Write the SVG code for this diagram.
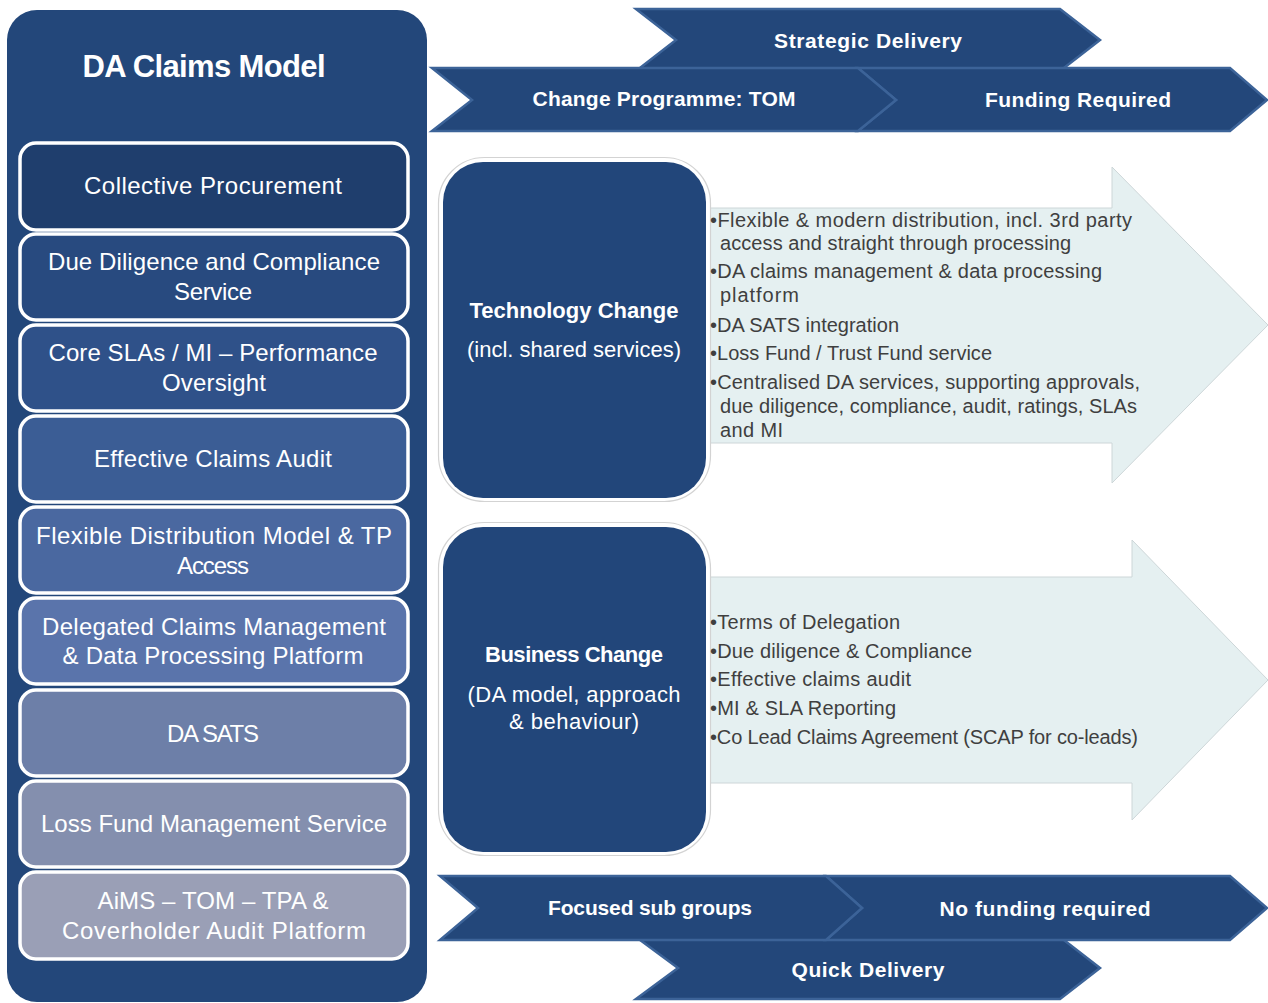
<svg xmlns="http://www.w3.org/2000/svg" width="1268" height="1003" viewBox="0 0 1268 1003">
  <style>
    .panel { fill: #23477a; }
    .item { stroke: #ffffff; stroke-width: 3.5; }
    .item-text { font-family: "Liberation Sans", Arial, sans-serif; font-size: 24px; fill: #ffffff; text-anchor: middle; }
    .title { font-family: "Liberation Sans", Arial, sans-serif; font-size: 31px; font-weight: bold; fill: #ffffff; text-anchor: middle; }
    .chev { fill: #23477a; stroke: #3c6398; stroke-width: 2.5; stroke-linejoin: miter; }
    .chev-text { font-family: "Liberation Sans", Arial, sans-serif; font-size: 21px; font-weight: bold; fill: #ffffff; text-anchor: middle; }
    .ring { fill: #ffffff; stroke: #d3d3d3; stroke-width: 1.2; }
    .hub { fill: #22467a; }
    .hub-head { font-family: "Liberation Sans", Arial, sans-serif; font-size: 22px; font-weight: bold; fill: #ffffff; text-anchor: middle; }
    .hub-sub { font-family: "Liberation Sans", Arial, sans-serif; font-size: 22px; fill: #ffffff; text-anchor: middle; }
    .band { fill: #e5f0f1; stroke: #cdd6d8; stroke-width: 1; }
    .bullet { font-family: "Liberation Sans", Arial, sans-serif; font-size: 20px; fill: #3f3f3f; }
  </style>

  <!-- Left column: DA Claims Model -->
  <g id="da-claims-model">
    <rect class="panel" x="7" y="10" width="420" height="992" rx="30" ry="30"/>
    <text class="title" x="204" y="77" textLength="243">DA Claims Model</text>
  </g>

  <g id="collective-procurement">
    <rect class="item" x="20" y="143" width="388" height="87" rx="16" fill="#1f3e6d"/>
    <text class="item-text" x="213" y="194" textLength="258">Collective Procurement</text>
  </g>
  <g id="due-diligence">
    <rect class="item" x="20" y="234" width="388" height="86" rx="16" fill="#284a7f"/>
    <text class="item-text" x="214" y="270" textLength="332">Due Diligence and Compliance</text>
    <text class="item-text" x="213" y="300" textLength="78">Service</text>
  </g>
  <g id="core-slas">
    <rect class="item" x="20" y="325" width="388" height="86" rx="16" fill="#2f5189"/>
    <text class="item-text" x="213" y="361" textLength="329">Core SLAs / MI – Performance</text>
    <text class="item-text" x="214" y="391" textLength="104">Oversight</text>
  </g>
  <g id="claims-audit">
    <rect class="item" x="20" y="416" width="388" height="86" rx="16" fill="#3b5d95"/>
    <text class="item-text" x="213" y="467" textLength="238">Effective Claims Audit</text>
  </g>
  <g id="flexible-distribution">
    <rect class="item" x="20" y="507" width="388" height="86" rx="16" fill="#4a68a0"/>
    <text class="item-text" x="214" y="544" textLength="356">Flexible Distribution Model &amp; TP</text>
    <text class="item-text" x="213" y="574" textLength="72">Access</text>
  </g>
  <g id="delegated-claims">
    <rect class="item" x="20" y="598" width="388" height="86" rx="16" fill="#5a74ab"/>
    <text class="item-text" x="214" y="635" textLength="344">Delegated Claims Management</text>
    <text class="item-text" x="213" y="664" textLength="301">&amp; Data Processing Platform</text>
  </g>
  <g id="da-sats">
    <rect class="item" x="20" y="690" width="388" height="86" rx="16" fill="#6d7fa8"/>
    <text class="item-text" x="213" y="742" textLength="92">DA SATS</text>
  </g>
  <g id="loss-fund">
    <rect class="item" x="20" y="781" width="388" height="86" rx="16" fill="#848fae"/>
    <text class="item-text" x="214" y="832" textLength="346">Loss Fund Management Service</text>
  </g>
  <g id="aims-platform">
    <rect class="item" x="20" y="872" width="388" height="87" rx="16" fill="#9a9fb6"/>
    <text class="item-text" x="213" y="909" textLength="231">AiMS – TOM – TPA &amp;</text>
    <text class="item-text" x="214" y="939" textLength="304">Coverholder Audit Platform</text>
  </g>

  <!-- Top chevrons -->
  <g id="strategic-delivery">
    <polygon class="chev" points="636,9 1060,9 1100,40 1060,71 636,71 676,40"/>
    <text class="chev-text" x="868" y="48" textLength="188">Strategic Delivery</text>
  </g>
  <g id="funding-required">
    <polygon class="chev" points="858,68 1230,68 1267,100 1230,131 858,131 896,100"/>
    <text class="chev-text" x="1078" y="107" textLength="186">Funding Required</text>
  </g>
  <g id="change-programme">
    <polygon class="chev" points="432,68 858,68 896,100 858,131 432,131 472,100"/>
    <text class="chev-text" x="664" y="106" textLength="263">Change Programme: TOM</text>
  </g>

  <!-- Technology change -->
  <g id="technology-change">
    <polygon class="band" points="700,208 1112,208 1112,167 1268,325 1112,483 1112,443 700,443"/>
    <rect class="ring" x="438.5" y="157.5" width="272" height="344" rx="46"/>
    <rect class="hub" x="443" y="162" width="263" height="336" rx="40"/>
    <text class="hub-head" x="574" y="318" textLength="209">Technology Change</text>
    <text class="hub-sub" x="574" y="357" textLength="214">(incl. shared services)</text>
    <text class="bullet" x="710" y="227" textLength="422">•Flexible &amp; modern distribution, incl. 3rd party</text>
    <text class="bullet" x="720" y="250" textLength="351">access and straight through processing</text>
    <text class="bullet" x="710" y="278" textLength="392">•DA claims management &amp; data processing</text>
    <text class="bullet" x="720" y="302" textLength="79">platform</text>
    <text class="bullet" x="710" y="332" textLength="189">•DA SATS integration</text>
    <text class="bullet" x="710" y="360" textLength="282">•Loss Fund / Trust Fund service</text>
    <text class="bullet" x="710" y="389" textLength="430">•Centralised DA services, supporting approvals,</text>
    <text class="bullet" x="720" y="413" textLength="417">due diligence, compliance, audit, ratings, SLAs</text>
    <text class="bullet" x="720" y="437" textLength="63">and MI</text>
  </g>

  <!-- Business change -->
  <g id="business-change">
    <polygon class="band" points="700,577 1132,577 1132,540 1268,680 1132,820 1132,783 700,783"/>
    <rect class="ring" x="438.5" y="522.5" width="272" height="333" rx="46"/>
    <rect class="hub" x="443" y="527" width="263" height="325" rx="40"/>
    <text class="hub-head" x="574" y="662" textLength="178">Business Change</text>
    <text class="hub-sub" x="574" y="702" textLength="213">(DA model, approach</text>
    <text class="hub-sub" x="574" y="729" textLength="130">&amp; behaviour)</text>
    <text class="bullet" x="710" y="629" textLength="190">•Terms of Delegation</text>
    <text class="bullet" x="710" y="658" textLength="262">•Due diligence &amp; Compliance</text>
    <text class="bullet" x="710" y="686" textLength="201">•Effective claims audit</text>
    <text class="bullet" x="710" y="715" textLength="186">•MI &amp; SLA Reporting</text>
    <text class="bullet" x="710" y="744" textLength="428">•Co Lead Claims Agreement (SCAP for co-leads)</text>
  </g>

  <!-- Bottom chevrons -->
  <g id="quick-delivery">
    <polygon class="chev" points="636,937 1060,937 1100,968 1060,999 636,999 678,968"/>
    <text class="chev-text" x="868" y="977" textLength="153">Quick Delivery</text>
  </g>
  <g id="no-funding-required">
    <polygon class="chev" points="826,876 1230,876 1267,908 1230,940 826,940 862,908"/>
    <text class="chev-text" x="1045" y="916" textLength="211">No funding required</text>
  </g>
  <g id="focused-sub-groups">
    <polygon class="chev" points="440,876 826,876 862,908 826,940 440,940 478,908"/>
    <text class="chev-text" x="650" y="915" textLength="204">Focused sub groups</text>
  </g>

  <!-- No connectors between nodes in this layout -->
  <g id="connectors"/>
</svg>
